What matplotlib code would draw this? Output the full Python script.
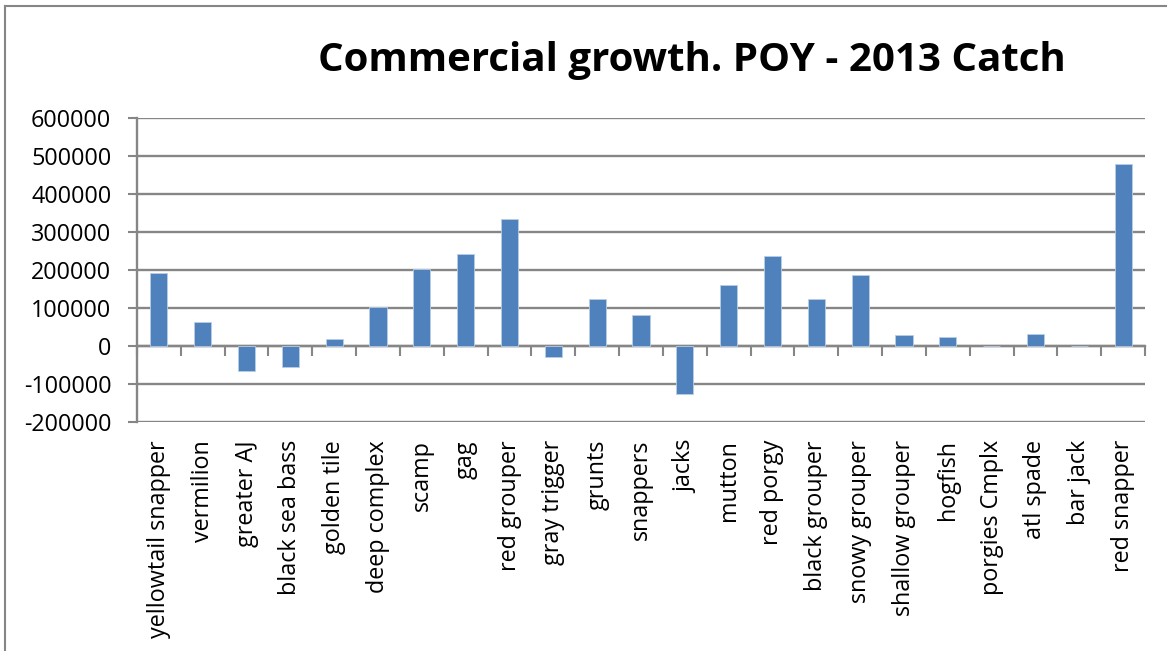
import matplotlib
matplotlib.use("Agg")
import matplotlib.pyplot as plt
from matplotlib.lines import Line2D
import numpy as np

categories = ["yellowtail snapper", "vermilion", "greater AJ", "black sea bass",
              "golden tile", "deep complex", "scamp", "gag", "red grouper",
              "gray trigger", "grunts", "snappers", "jacks", "mutton", "red porgy",
              "black grouper", "snowy grouper", "shallow grouper", "hogfish",
              "porgies Cmplx", "atl spade", "bar jack", "red snapper"]
values = [191000, 62000, -65000, -54000, 18000, 103000, 202000, 241000, 334000,
          -30000, 123000, 82000, -126000, 160000, 238000, 124000, 186000, 30000,
          24000, 1000, 32000, 0, 480000]
y_ticks = [-200000, -100000, 0, 100000, 200000, 300000, 400000, 500000, 600000]
title = "Commercial growth. POY - 2013 Catch"

W, H = 1167, 651
fig = plt.figure(figsize=(W / 100, H / 100), dpi=100)
fig.patch.set_facecolor("white")

left, right, top, bottom = 137, 1145, 118, 422
ax = fig.add_axes([left / W, 1 - bottom / H, (right - left) / W, (bottom - top) / H])

x = np.arange(len(categories))
grid_c = "#868686"
ax.bar(x, values, width=0.39, color="#4F81BD", edgecolor="#B9CDE5", linewidth=0.6, zorder=3)

ax.set_xlim(-0.5, len(categories) - 0.5)
ax.set_ylim(y_ticks[0], y_ticks[-1])
ax.set_yticks(y_ticks)
ax.set_yticklabels([str(v) for v in y_ticks])
ax.yaxis.grid(True, color=grid_c, linewidth=1.7, zorder=0)
ax.set_axisbelow(True)

for s in ["top", "right", "bottom"]:
    ax.spines[s].set_visible(False)
ax.spines["left"].set_color(grid_c)
ax.spines["left"].set_linewidth(1.7)

ax.tick_params(axis="y", length=6.5, width=1.5, color=grid_c, labelsize=16.8, pad=12,
               labelcolor="black")
ax.set_xticks(x)
ax.set_xticklabels(categories, rotation=90, fontsize=16.8, va="top", ha="center")
ax.tick_params(axis="x", length=0, pad=13)

for lab in ax.get_xticklabels() + ax.get_yticklabels():
    lab.set_fontfamily("Open Sans")

# zero axis with category boundary ticks
ax2 = ax.twiny()
ax2.set_xlim(ax.get_xlim())
for s in ["top", "right", "left"]:
    ax2.spines[s].set_visible(False)
ax2.spines["bottom"].set_position(("data", 0))
ax2.spines["bottom"].set_color(grid_c)
ax2.spines["bottom"].set_linewidth(1.7)
ax2.xaxis.set_ticks_position("bottom")
ax2.set_xticks(np.arange(len(categories) + 1) - 0.5)
ax2.set_xticklabels([])
ax2.tick_params(axis="x", length=7, width=1.5, color=grid_c, direction="out")
ax2.set_zorder(ax.get_zorder() - 1)
ax.patch.set_visible(False)

fig.text(692 / W, 1 - 60 / H, title, ha="center", va="center",
         fontsize=29, fontweight="bold", family="Open Sans")

# outer frame (top and left only)
fig.add_artist(Line2D([5 / W, 1166 / W], [1 - 5.5 / H, 1 - 5.5 / H],
                      transform=fig.transFigure, color=grid_c, linewidth=1.5))
fig.add_artist(Line2D([5 / W, 5 / W], [0, 1 - 5.5 / H],
                      transform=fig.transFigure, color=grid_c, linewidth=1.5))

fig.savefig("out.png", dpi=100, facecolor="white")
